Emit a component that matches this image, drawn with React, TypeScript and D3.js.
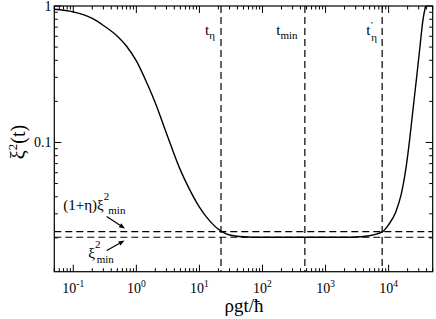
import React from 'react';
import * as d3 from 'd3';

const W = 436;
const H = 319;

// ---- data ----
const tValues = [0.05, 0.1, 0.2, 0.3, 0.5, 0.7, 1, 1.5, 2, 3, 5, 7, 10, 15, 22, 30, 50, 100, 470, 2000, 3000, 5600, 8000, 10000, 13000, 16000, 19000, 21500, 24300, 27500, 31000, 35000, 38500];
const xiValues = [0.946, 0.905, 0.81, 0.72, 0.6, 0.507, 0.396, 0.267, 0.195, 0.117, 0.0627, 0.0451, 0.0336, 0.0262, 0.0224, 0.021, 0.0204, 0.0202, 0.0202, 0.0202, 0.0203, 0.021, 0.0222, 0.025, 0.031, 0.0425, 0.0665, 0.104, 0.173, 0.287, 0.476, 0.789, 1.0];

const xiMin = 0.0202;
const eta = 0.1;
const tEta = 22;
const tMin = 470;
const tEtaPrime = 7900;

const xDomain = [0.05, 5e4];
const yDomain = [0.0113, 1];
const xTickExponents = [-1, 0, 1, 2, 3, 4];
const xDecades = [-2, -1, 0, 1, 2, 3, 4];
const yDecades = [-2, -1, 0];
const yTickLabels = [
  { v: 0.1, label: '0.1' },
  { v: 1, label: '1' },
];

const FONT = "'Liberation Serif', Tinos, 'Times New Roman', 'DejaVu Serif', serif";

export default function App() {
  const left = 54.3, right = 432.7, top = 6, bottom = 271.7;
  const x = d3.scaleLog().domain(xDomain).range([left, right]);
  const y = d3.scaleLog().domain(yDomain).range([bottom, top]);

  const inX = (v: number) => v >= xDomain[0] * 0.9999 && v <= xDomain[1] * 1.0001;
  const inY = (v: number) => v >= yDomain[0] * 0.9999 && v <= yDomain[1] * 1.0001;

  const xTicks: { v: number; major: boolean }[] = [];
  xDecades.forEach((e) => {
    for (let k = 1; k <= 9; k++) {
      const v = k * Math.pow(10, e);
      if (inX(v)) xTicks.push({ v, major: k === 1 });
    }
  });
  const yTicks: { v: number; major: boolean }[] = [];
  yDecades.forEach((e) => {
    for (let k = 1; k <= 9; k++) {
      const v = k * Math.pow(10, e);
      if (inY(v)) yTicks.push({ v, major: k === 1 });
    }
  });

  const pts: [number, number][] = tValues.map((t, i) => [x(t), y(xiValues[i])]);
  const line = d3.line().curve(d3.curveMonotoneX)(pts) || '';

  const majLen = 7;
  const minLen = 3.5;

  const arrow = (x1: number, y1: number, x2: number, y2: number) => {
    const dx = x2 - x1, dy = y2 - y1;
    const L = Math.hypot(dx, dy);
    const ux = dx / L, uy = dy / L;
    const hl = 6, hw = 2.3;
    const bx = x2 - ux * hl, by = y2 - uy * hl;
    const p = `${x2},${y2} ${bx - uy * hw},${by + ux * hw} ${bx + uy * hw},${by - ux * hw}`;
    return (
      <g>
        <line x1={x1} y1={y1} x2={bx} y2={by} stroke="#000" strokeWidth={1.2} />
        <polygon points={p} fill="#000" />
      </g>
    );
  };

  const yUpper = y(xiMin * (1 + eta));
  const yLower = y(xiMin);
  const ts = { fontFamily: FONT };

  return (
    <svg width={W} height={H} style={{ position: 'absolute', left: 0, top: 0, background: '#fff', fontFamily: FONT }}>
      <defs>
        <clipPath id="plotclip">
          <rect x={left} y={top} width={right - left} height={bottom - top} />
        </clipPath>
      </defs>
      <rect x={0} y={0} width={W} height={H} fill="#fff" />

      {/* dashed reference lines */}
      <g stroke="#000" strokeWidth={1.2} strokeDasharray="7,4" fill="none">
        <line x1={left} x2={right} y1={yUpper} y2={yUpper} />
        <line x1={left} x2={right} y1={yLower} y2={yLower} />
        {[tEta, tMin, tEtaPrime].map((t, i) => (
          <line key={i} x1={x(t)} x2={x(t)} y1={top} y2={bottom} />
        ))}
      </g>

      {/* curve */}
      <path d={line} fill="none" stroke="#000" strokeWidth={1.4} clipPath="url(#plotclip)" />

      {/* frame */}
      <rect x={left} y={top} width={right - left} height={bottom - top} fill="none" stroke="#000" strokeWidth={1.2} />

      {/* ticks */}
      <g stroke="#000" strokeWidth={1}>
        {xTicks.map((t, i) => {
          const len = t.major ? majLen : minLen;
          const xx = x(t.v);
          return (
            <g key={'x' + i}>
              <line x1={xx} x2={xx} y1={bottom} y2={bottom - len} />
              <line x1={xx} x2={xx} y1={top} y2={top + len} />
            </g>
          );
        })}
        {yTicks.map((t, i) => {
          const len = t.major ? majLen : minLen;
          const yy = y(t.v);
          return (
            <g key={'y' + i}>
              <line x1={left} x2={left + len} y1={yy} y2={yy} />
              <line x1={right} x2={right - len} y1={yy} y2={yy} />
            </g>
          );
        })}
      </g>

      {/* x tick labels */}
      {xTickExponents.map((e) => (
        <text key={e} x={x(Math.pow(10, e))} y={293} textAnchor="middle" fontSize={14} style={ts}>
          10<tspan dy={-6} fontSize={9.5}>{String(e)}</tspan>
        </text>
      ))}

      {/* y tick labels */}
      {yTickLabels.map((t) => (
        <text key={t.label} x={51.5} y={y(t.v) + 4.8} textAnchor="end" fontSize={14} style={ts}>
          {t.label}
        </text>
      ))}

      {/* axis titles */}
      <text x={244} y={312} textAnchor="middle" fontSize={19} style={ts}>ρgt/ħ</text>
      <text transform="translate(25,142) rotate(-90)" textAnchor="middle" fontSize={20} style={ts}>
        ξ<tspan dy={-8} fontSize={13}>2</tspan><tspan dy={8}>(t)</tspan>
      </text>

      {/* vertical line labels */}
      <text x={x(tEta) - 16} y={35} fontSize={15} style={ts}>
        t<tspan dy={3.5} fontSize={11}>η</tspan>
      </text>
      <text x={x(tMin) - 28.6} y={35} fontSize={15} style={ts}>
        t<tspan dy={3.5} fontSize={11}>min</tspan>
      </text>
      <text x={x(tEtaPrime) - 16} y={35} fontSize={15} style={ts}>
        t<tspan dy={-7.5} fontSize={9}>’</tspan>
      </text>
      <text x={x(tEtaPrime) - 11} y={41} fontSize={11} style={ts}>η</text>

      {/* horizontal line labels */}
      <text x={63.3} y={209.5} fontSize={15} style={ts}>
        (1+η)ξ
        <tspan dy={-10} fontSize={11}>2</tspan>
        <tspan x={108.3} dy={14} fontSize={11}>min</tspan>
      </text>
      <text x={88.3} y={258} fontSize={15} style={ts}>
        ξ
        <tspan dy={-10.5} fontSize={11}>2</tspan>
        <tspan x={96.7} dy={15.5} fontSize={11}>min</tspan>
      </text>

      {arrow(106.7, 216.5, 125, 228.5)}
      {arrow(106.7, 250.5, 124.5, 240.5)}
    </svg>
  );
}
